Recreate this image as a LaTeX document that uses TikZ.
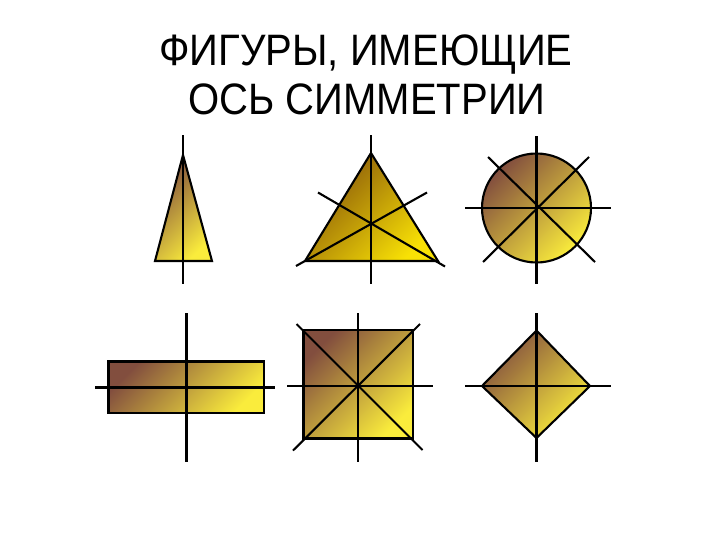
\documentclass[tikz,border=0pt]{standalone}
\usepackage{fontspec}
\setmainfont{Liberation Sans}[FakeStretch=0.91]
\begin{document}
\begin{tikzpicture}[x=1pt,y=-1pt,
  fig/.style={draw=black,line width=2.1pt,line join=miter,
    top color=brown1,bottom color=yellow1,shading=axis,shading angle=45},
  figb/.style={draw=black,line width=2.1pt,line join=miter,
    top color=gold1,bottom color=gold2,shading=axis,shading angle=45},
  ax/.style={draw=black,line width=2.1pt},
  ttl/.style={font=\fontsize{44}{49}\selectfont,anchor=base,inner sep=0pt}]
\definecolor{brown1}{RGB}{130,78,62}
\definecolor{yellow1}{RGB}{250,236,60}
\definecolor{gold1}{RGB}{135,85,10}
\definecolor{gold2}{RGB}{248,225,5}
\useasboundingbox (0,0) rectangle (728,546);
\fill[white] (0,0) rectangle (728,546);
% title
\node[ttl] (t1) at (366,65) {ФИГУРЫ, ИМЕЮЩИЕ};
\node[ttl] (t2) at (367,114) {ОСЬ СИММЕТРИИ};
% thin triangle
\path[fig] (183,155) -- (212,261) -- (155,261) -- cycle;
\draw[ax] (183,135) -- (183,284);
% equilateral triangle
\path[figb] (371,153) -- (438,261) -- (305,261) -- cycle;
\draw[ax] (371,135) -- (371,284);
\draw[ax] (296,266) -- (427,192.5);
\draw[ax] (318,192.5) -- (445,266.5);
% circle
\path[fig] (536.5,208) circle (54.5);
\draw[ax] (536.5,136) -- (536.5,284);
\draw[ax] (465,208) -- (610.5,208);
\draw[ax] (488,157) -- (595,262);
\draw[ax] (589,157) -- (483,262);
% rectangle
\path[fig] (108.5,361.5) rectangle (264,413);
\draw[ax] (186.5,313) -- (186.5,462);
\draw[ax] (95,387.5) -- (274.5,387.5);
% square
\path[fig] (303.5,330) rectangle (413,438.5);
\draw[ax] (358,313) -- (358,462);
\draw[ax] (287,386) -- (432.5,386);
\draw[ax] (296.5,324) -- (422.5,450);
\draw[ax] (420,324) -- (293,450.5);
% diamond
\path[fig] (536.5,330.5) -- (590,386) -- (536.5,438) -- (482,386) -- cycle;
\draw[ax] (536.5,313) -- (536.5,462);
\draw[ax] (465,386) -- (610.5,386);
\end{tikzpicture}
\end{document}
